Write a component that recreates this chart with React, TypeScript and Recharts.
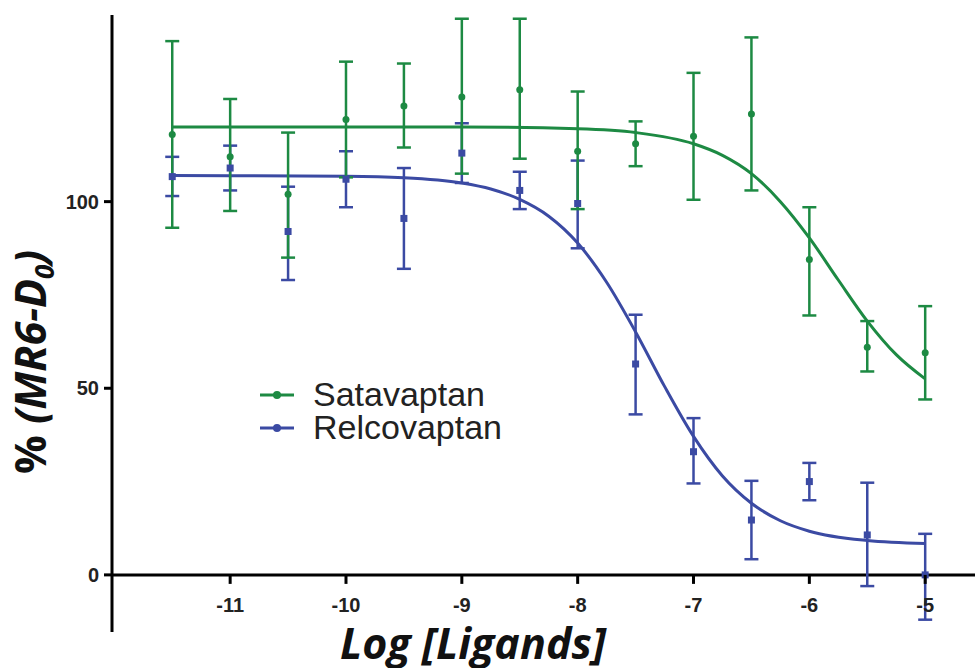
import React from "react";
import { ComposedChart, Line, Scatter, ErrorBar, XAxis, YAxis, ReferenceLine } from "recharts";

// measured points (mean, lower and upper end of the error bar), log [ligand]
const doses = [-11.5, -11, -10.5, -10, -9.5, -9, -8.5, -8, -7.5, -7, -6.5, -6, -5.5, -5];

const satMean = [118, 112, 102, 122, 125.6, 128, 130, 113.5, 115.5, 117.5, 123.5, 84.5, 61, 59.5];
const satLow = [93, 97.5, 85, 106.5, 114.5, 107.5, 111.5, 98, 109.5, 100.5, 103, 69.5, 54.5, 47];
const satHigh = [143, 127.5, 118.5, 137.5, 137, 149, 149, 129.5, 121.5, 134.5, 144, 98.5, 68, 72];

const relMean = [106.7, 109, 92, 106, 95.5, 113, 103, 99.5, 56.5, 33, 14.7, 25, 10.7, 0];
const relLow = [101.5, 103, 79, 98.5, 82, 105, 98, 87.5, 43, 24.5, 4.2, 20, -3, -12];
const relHigh = [112, 115, 104, 113.5, 109, 121, 108, 111, 69.7, 42, 25.2, 30, 24.7, 11];

// fitted curves
const satCurveX = [-11.5, -9, -8, -7.5, -7, -6.75, -6.5, -6.25, -6, -5.75, -5.5, -5.25, -5];
const satCurveY = [120, 120, 119.5, 118.5, 115.5, 112.4, 107.5, 100, 90.3, 79, 68, 59, 52.5];

const relCurveX = [-11.5, -10, -9.5, -9, -8.75, -8.5, -8.25, -8, -7.75, -7.5, -7.25, -7, -6.75, -6.5, -6.25, -6, -5.5, -5];
const relCurveY = [107, 106.8, 106.4, 105, 103.4, 100.6, 96.1, 88.9, 78.4, 65.1, 50.5, 37.1, 26.5, 19.2, 14.5, 11.7, 9.2, 8.4];

const xTicks = [-11, -10, -9, -8, -7, -6, -5];
const yTicks = [0, 50, 100];

const GREEN = "#1d8a43";
const BLUE = "#3b4aa3";

const W = 975;
const H = 668;
const TOP = 15;
const X_AXIS_H = 36;
const Y_MIN = -15.3;
const Y_MAX = 150;
const PLOT_H = H - TOP - X_AXIS_H;
const ZERO_Y = TOP + ((Y_MAX - 0) / (Y_MAX - Y_MIN)) * PLOT_H;

const points = (mean: number[], low: number[], high: number[]) =>
  doses.map((x, i) => ({ x, y: mean[i], err: [mean[i] - low[i], high[i] - mean[i]] }));

const curve = (xs: number[], ys: number[]) => xs.map((x, i) => ({ x, y: ys[i] }));

const satPoints = points(satMean, satLow, satHigh);
const relPoints = points(relMean, relLow, relHigh);
const satCurve = curve(satCurveX, satCurveY);
const relCurve = curve(relCurveX, relCurveY);

const tickFont = "'Liberation Sans', Arial, sans-serif";

function XTick(props: any) {
  const { x, payload } = props;
  return (
    <g>
      <line x1={x} x2={x} y1={ZERO_Y} y2={ZERO_Y + 9} stroke="#000" strokeWidth={3} />
      <text x={x} y={ZERO_Y + 37} textAnchor="middle" fontFamily={tickFont} fontWeight="bold" fontSize={20} fill="#222">
        {payload.value}
      </text>
    </g>
  );
}

function YLabel() {
  return (
    <text
      x={46}
      y={362}
      transform="rotate(-90, 46, 362)"
      textAnchor="middle"
      fontFamily="'Open Sans', sans-serif"
      fontWeight="bold"
      fontSize={43}
      fill="#111"
    >
      <tspan>% </tspan>
      <tspan fontStyle="italic">(MR6-D</tspan>
      <tspan fontStyle="italic" fontSize={26} dy={8}>0</tspan>
      <tspan fontStyle="italic" dy={-8}>)</tspan>
    </text>
  );
}

function LegendBox() {
  const rows = [
    { name: "Satavaptan", color: GREEN, y: 20 },
    { name: "Relcovaptan", color: BLUE, y: 53 },
  ];
  return (
    <svg width={280} height={80} style={{ position: "absolute", left: 255, top: 375 }}>
      {rows.map((r) => (
        <g key={r.name}>
          <line x1={5} x2={39} y1={r.y} y2={r.y} stroke={r.color} strokeWidth={3} />
          <circle cx={22} cy={r.y} r={4} fill={r.color} />
          <text x={58} y={r.y + 11} fontFamily={tickFont} fontSize={34} fill="#222">
            {r.name}
          </text>
        </g>
      ))}
    </svg>
  );
}

const dot = (color: string) => (p: any) => <circle cx={p.cx} cy={p.cy} r={3.5} fill={color} />;
const square = (color: string) => (p: any) => <rect x={p.cx - 3.5} y={p.cy - 3.5} width={7} height={7} fill={color} />;

export default function App() {
  return (
    <div style={{ position: "absolute", left: 0, top: 0, width: W, height: H, background: "#fff" }}>
      <ComposedChart width={W} height={H} margin={{ top: TOP, right: 0, bottom: 0, left: 0 }}>
        <XAxis
          type="number"
          dataKey="x"
          domain={[-12.02, -4.57]}
          ticks={xTicks}
          axisLine={false}
          tickLine={false}
          height={X_AXIS_H}
          tick={<XTick />}
          allowDataOverflow
        />
        <YAxis
          type="number"
          dataKey="y"
          domain={[Y_MIN, Y_MAX]}
          ticks={yTicks}
          width={112}
          axisLine={{ stroke: "#000", strokeWidth: 3 }}
          tickLine={{ stroke: "#000", strokeWidth: 3 }}
          tickSize={8}
          tickMargin={5}
          tick={{ fontFamily: tickFont, fontWeight: "bold", fontSize: 20, fill: "#222" }}
          label={{ content: () => <YLabel /> }}
        />
        <ReferenceLine y={0} stroke="#000" strokeWidth={3} />
        <Line
          data={relCurve}
          dataKey="y"
          type="monotone"
          stroke={BLUE}
          strokeWidth={3}
          dot={false}
          activeDot={false}
          isAnimationActive={false}
        />
        <Scatter data={relPoints} dataKey="y" fill={BLUE} shape={square(BLUE)} isAnimationActive={false}>
          <ErrorBar dataKey="err" direction="y" width={7} stroke={BLUE} strokeWidth={2.5} />
        </Scatter>
        <Line
          data={satCurve}
          dataKey="y"
          type="monotone"
          stroke={GREEN}
          strokeWidth={3}
          dot={false}
          activeDot={false}
          isAnimationActive={false}
        />
        <Scatter data={satPoints} dataKey="y" fill={GREEN} shape={dot(GREEN)} isAnimationActive={false}>
          <ErrorBar dataKey="err" direction="y" width={7} stroke={GREEN} strokeWidth={2.5} />
        </Scatter>
      </ComposedChart>
      <LegendBox />
      <div
        style={{
          position: "absolute",
          left: 473,
          top: 621,
          transform: "translateX(-50%)",
          whiteSpace: "nowrap",
          fontFamily: "'Open Sans', sans-serif",
          fontWeight: "bold",
          fontStyle: "italic",
          fontSize: 43,
          color: "#111",
          lineHeight: "44px",
        }}
      >
        Log [Ligands]
      </div>
    </div>
  );
}
